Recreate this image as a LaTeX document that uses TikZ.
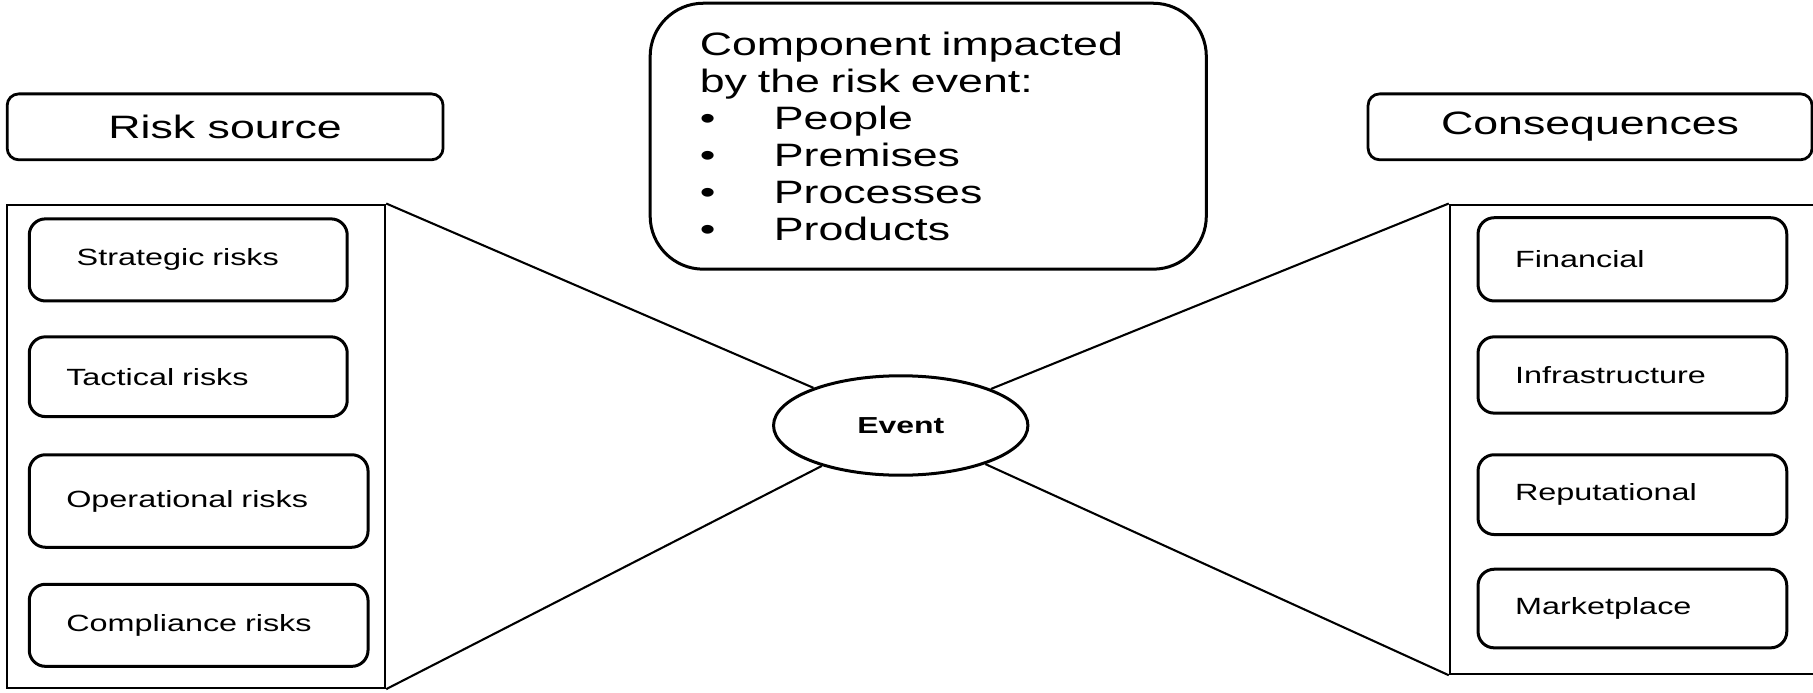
\documentclass[tikz,border=0pt]{standalone}
\usepackage{fontspec}
\setmainfont{Liberation Sans}[FakeStretch=1.38]
\usetikzlibrary{shapes.geometric}

\begin{document}
\begin{tikzpicture}[x=1pt, y=-1pt,
  big/.style={font=\fontsize{28}{32}\selectfont},
  small/.style={font=\fontsize{20.3}{24}\selectfont},
  headbox/.style={big, draw, line width=2.4pt, rounded corners=10pt, minimum height=57pt, inner sep=0pt, anchor=north west},
  itembox/.style={small, draw, line width=2.6pt, rounded corners=14pt, align=left, inner xsep=32pt, inner ysep=0pt, anchor=north west},
  holder/.style={draw, line width=2pt, inner sep=0pt, anchor=north west},
  link/.style={line width=1.8pt}]
\useasboundingbox (0,0) rectangle (1568,599);
\clip (0,0) rectangle (1568,599);

% left side: where the risk comes from
\node[headbox, minimum width=377pt] (srchead) at (5,80) {Risk source};
\node[holder, minimum width=327pt, minimum height=418pt] (sources) at (5,176) {};
\node[itembox, inner xsep=41pt, text width=193pt, minimum height=71pt] (strategic) at (24,188) {Strategic risks};
\node[itembox, text width=211pt, minimum height=69pt] (tactical) at (24,290) {Tactical risks};
\node[itembox, text width=229pt, minimum height=80pt] (operational) at (24,392) {Operational risks};
\node[itembox, text width=229pt, minimum height=71pt] (compliance) at (24,504) {Compliance risks};

% middle: the event and what it hits
\node[big, draw, line width=2.6pt, rounded corners=46pt, minimum width=481pt, minimum height=230pt,
  text width=395pt, inner xsep=43pt, align=left, anchor=north west] (impact) at (561,1.5)
  {Component impacted\\by the risk event:\\
   \makebox[64pt][l]{\textbullet}People\\
   \makebox[64pt][l]{\textbullet}Premises\\
   \makebox[64pt][l]{\textbullet}Processes\\
   \makebox[64pt][l]{\textbullet}Products};
\node[ellipse, draw, line width=2.6pt, minimum width=220pt, minimum height=86pt, inner sep=0pt,
  font=\bfseries\fontsize{20}{24}\selectfont] (event) at (779,368) {Event};

% right side: consequences
\node[headbox, minimum width=384pt] (conhead) at (1182,80) {Consequences};
\node[holder, minimum width=330pt, minimum height=406pt] (effects) at (1253,176) {};
\node[itembox, text width=203pt, minimum height=72pt] (financial) at (1277,187) {Financial};
\node[itembox, text width=203pt, minimum height=66pt] (infra) at (1277,290) {Infrastructure};
\node[itembox, text width=203pt, minimum height=69pt] (reput) at (1277,392) {Reputational};
\node[itembox, text width=203pt, minimum height=68pt] (market) at (1277,491) {Marketplace};

% bow-tie lines
\draw[link] (sources.north east) -- (event);
\draw[link] (sources.south east) -- (event);
\draw[link] (effects.north west) -- (event);
\draw[link] (effects.south west) -- (event);
\end{tikzpicture}
\end{document}
